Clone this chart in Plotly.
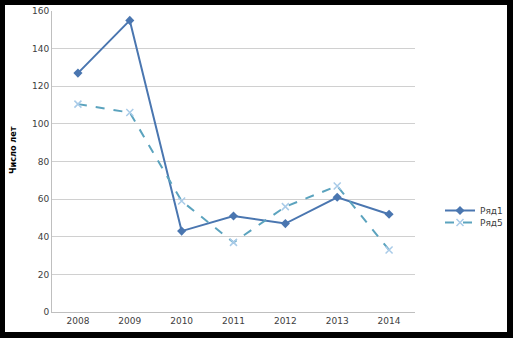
import plotly.graph_objects as go

years = ["2008", "2009", "2010", "2011", "2012", "2013", "2014"]
ryad1 = [127, 155, 43, 51, 47, 61, 52]
ryad5 = [110.5, 106, 59, 37, 56, 67, 33]
y_ticks = [0, 20, 40, 60, 80, 100, 120, 140, 160]

W, H = 513, 338
L, R, T, B = 52, 415, 11, 312

fig = go.Figure()
fig.add_trace(go.Scatter(
    x=years, y=ryad1, name="Ряд1", mode="lines+markers",
    line=dict(color="#4A76B0", width=2),
    marker=dict(symbol="diamond", size=7, color="#4A76B0"),
    legend="legend",
))
fig.add_trace(go.Scatter(
    x=years, y=ryad5, name="Ряд5", mode="lines+markers",
    line=dict(color="#5BA3BE", width=2, dash="dash"),
    marker=dict(symbol="x-thin", size=7, color="#A9CBE8", line=dict(width=1.5, color="#A9CBE8")),
    legend="legend2",
))

pw, ph = R - L, B - T
fig.add_shape(type="rect", xref="paper", yref="paper", layer="below",
              x0=(5 - L) / pw, x1=(507 - L) / pw,
              y0=(B - 332) / ph, y1=(B - 5) / ph,
              fillcolor="white", line=dict(width=0))

fig.add_annotation(text="<b>Число лет</b>", xref="paper", yref="paper",
                   x=(13 - L) / pw, y=(B - 150) / ph, textangle=-90, showarrow=False,
                   xanchor="center", yanchor="middle",
                   font=dict(family="Liberation Sans Narrow, DejaVu Sans Condensed", size=9, color="black"))

leg_common = dict(xanchor="left", yanchor="top", bgcolor="rgba(0,0,0,0)",
                  font=dict(size=9, color="#404040"), itemwidth=30)

fig.update_layout(
    width=W, height=H,
    margin=dict(l=L, r=W - R, t=T, b=H - B, autoexpand=False),
    paper_bgcolor="black", plot_bgcolor="rgba(0,0,0,0)",
    font=dict(family="DejaVu Sans", size=9, color="#404040"),
    showlegend=True,
    legend=dict(x=(440 - L) / pw, y=(B - 196) / ph, **leg_common),
    legend2=dict(x=(440 - L) / pw, y=(B - 208) / ph, **leg_common),
    xaxis=dict(type="category", showgrid=False, showline=True, linecolor="#BFBFBF",
               ticks="", tickfont=dict(size=9, color="#404040"), range=[-0.5, 6.5],
               automargin=False),
    yaxis=dict(range=[0, 160], tickvals=y_ticks, showgrid=True, gridcolor="#D0D0D0",
               showline=True, linecolor="#BFBFBF", ticks="", zeroline=False,
               tickfont=dict(size=9, color="#404040"), automargin=False),
)

fig.write_html("out.html", config={"displayModeBar": False},
               post_script="document.body.style.margin='0';document.body.style.background='black';document.body.style.overflow='hidden';")
